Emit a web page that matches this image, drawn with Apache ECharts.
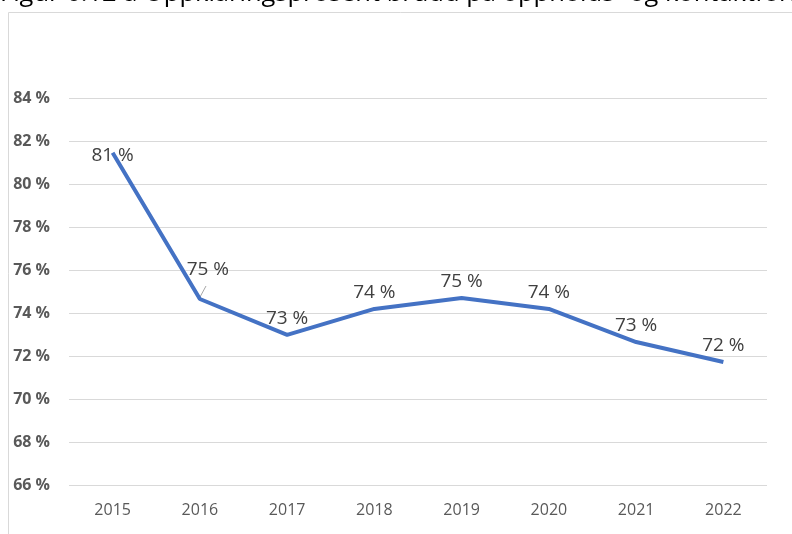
<!DOCTYPE html>
<html>
<head>
<meta charset="utf-8">
<script src="https://cdn.jsdelivr.net/npm/echarts@6/dist/echarts.min.js"></script>
<style>
  html, body { margin: 0; padding: 0; background: #fff; }
  #chart { width: 792px; height: 534px; }
</style>
</head>
<body>
<div id="chart"></div>
<script>
const years = ['2015', '2016', '2017', '2018', '2019', '2020', '2021', '2022']
const clearance = [81.45, 74.65, 72.98, 74.19, 74.7, 74.19, 72.65, 71.72]
const yTicks = [66, 68, 70, 72, 74, 76, 78, 80, 82, 84]

const chart = echarts.init(document.getElementById('chart'))

// first two labels sit differently in the original
const points = clearance.map(function (v, i) {
  if (i === 0) return { value: v, label: { position: 'inside', offset: [0, 3] } }
  if (i === 1) return { value: v, label: { position: 'top', distance: 20, offset: [8, 0] } }
  return v
})

chart.setOption({
  animation: false,
  graphic: [
    {
      type: 'rect',
      shape: { x: 8.5, y: 12.5, width: 900, height: 600 },
      style: { fill: 'none', stroke: '#d9d9d9', lineWidth: 1 }
    },
    {
      type: 'text',
      left: 0,
      top: -19,
      style: {
        text: 'Figur 6.12 a Oppklaringsprosent brudd på oppholds- og kontaktforbud',
        font: '25.5px "Open Sans", sans-serif',
        fill: '#000'
      }
    },
    {
      type: 'line',
      shape: { x1: 200, y1: 297, x2: 206, y2: 286 },
      style: { stroke: '#a6a6a6', lineWidth: 1 }
    }
  ],
  grid: { left: 69, right: 25, top: 98, bottom: 49 },
  xAxis: {
    type: 'category',
    data: years,
    boundaryGap: true,
    axisLine: { show: false },
    axisTick: { show: false },
    axisLabel: { color: '#595959', fontSize: 16, margin: 17, fontFamily: 'Open Sans' }
  },
  yAxis: {
    type: 'value',
    min: yTicks[0],
    max: yTicks[yTicks.length - 1],
    interval: 2,
    axisLine: { show: false },
    axisTick: { show: false },
    splitLine: { lineStyle: { color: '#d9d9d9', width: 1 } },
    axisLabel: {
      color: '#595959',
      fontSize: 16,
      fontWeight: 'bold',
      margin: 19,
      fontFamily: 'Open Sans',
      formatter: function (v) { return v + ' %' }
    }
  },
  series: [{
    type: 'line',
    data: points,
    symbol: 'circle',
    symbolSize: 0,
    showSymbol: true,
    lineStyle: { color: '#4472c4', width: 4 },
    itemStyle: { color: '#4472c4' },
    label: {
      show: true,
      position: 'top',
      distance: 7,
      color: '#404040',
      fontSize: 19,
      fontFamily: 'Open Sans',
      formatter: function (p) { return Math.round(p.value) + ' %' }
    }
  }]
})
</script>
</body>
</html>
